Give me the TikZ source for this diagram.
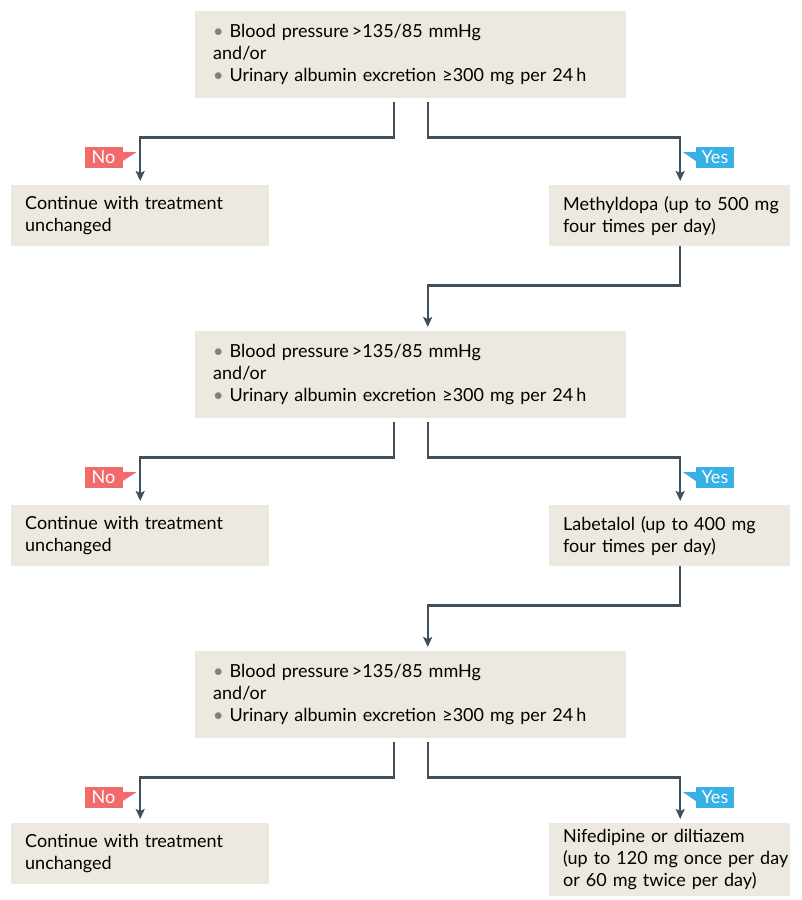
\documentclass[tikz,border=0pt]{standalone}
\usepackage{fontspec}
\setmainfont{Lato}
\usetikzlibrary{arrows.meta}

\definecolor{boxbg}{HTML}{EDE9E1}
\definecolor{linecol}{HTML}{3F4F5B}
\definecolor{nored}{HTML}{F26B6B}
\definecolor{yesblue}{HTML}{35B1E5}
\definecolor{dotgray}{HTML}{808080}

\newcommand{\bp}{{\color{dotgray}\textbullet}\ }

\begin{document}
\begin{tikzpicture}[x=1pt,y=-1pt,
    every node/.style={font=\fontsize{18}{22}\selectfont},
    condbox/.style={fill=boxbg, anchor=north west, text width=395pt, inner xsep=18pt,
      inner ysep=4pt, minimum height=87pt, align=left},
    sidebox/.style={fill=boxbg, anchor=north west, inner xsep=14pt, inner ysep=6pt,
      minimum height=61pt, align=left},
    flow/.style={draw=linecol, line width=2.2pt, -{Stealth[length=10pt,width=9pt,inset=2pt]}},
    tag/.style={text=white, inner xsep=0pt, inner ysep=0pt, minimum width=38pt, minimum height=21pt}]
    \useasboundingbox (0,0) rectangle (802,900);

    \foreach \i/\ct/\st/\drug in {1/11/185/{\mbox{Methyldopa (up to 500 mg}\\\mbox{four times per day)}},
        2/331/505/{\mbox{Labetalol (up to 400 mg}\\\mbox{four times per day)}},
        3/651/823/{\mbox{Nifedipine or diltiazem}\\\mbox{(up to 120 mg once per day}\\\mbox{or 60 mg twice per day)}}}{
      \node[condbox] (cond\i) at (195,\ct) {\bp Blood pressure\,>135/85 mmHg\\and/or\\\bp Urinary albumin excretion ≥300 mg per 24\,h};
      \node[sidebox, text width=230pt] (left\i) at (11,\st) {Continue with treatment\\unchanged};
      \node[sidebox, text width=213pt] (right\i) at (549,\st) {\drug};

      \draw[flow] ([xshift=-17pt,yshift=-4pt]cond\i.south) -- ++(0,35) -| ([yshift=4pt]left\i.north);
      \draw[flow] ([xshift=17pt,yshift=-4pt]cond\i.south) -- ++(0,35) -| ([xshift=10.5pt,yshift=4pt]right\i.north);

      % answer tags
      \node[tag, fill=nored] (no\i) at (103.5,\ct+146) {No};
      \fill[nored] ([yshift=5pt]no\i.east) -- ++(14,0) -- ([yshift=-4pt]no\i.east) -- cycle;
      \node[tag, fill=yesblue] (yes\i) at (715,\ct+146) {Yes};
      \fill[yesblue] ([yshift=5pt]yes\i.west) -- ++(-13,0) -- ([yshift=-4pt]yes\i.west) -- cycle;
    }

    \foreach \i/\j in {1/2,2/3}{
      \draw[flow] ([xshift=10.5pt]right\i.south) -- ++(0,39) -| ([xshift=17pt,yshift=4pt]cond\j.north);
    }
\end{tikzpicture}
\end{document}
